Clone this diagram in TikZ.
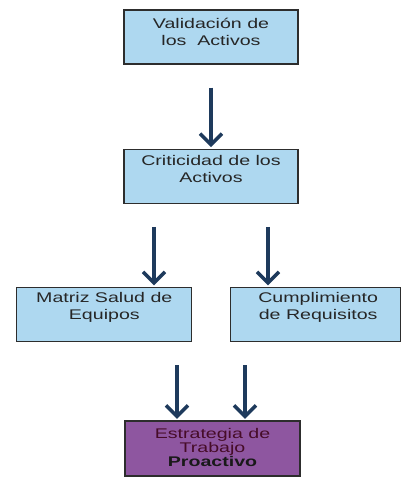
\documentclass[tikz,border=0pt]{standalone}
\usepackage{fontspec}
\setmainfont{Liberation Sans}
\newfontfamily\widefont[FakeStretch=1.4]{Liberation Sans}
\usetikzlibrary{arrows.meta, positioning}
\definecolor{boxblue}{RGB}{174,216,240}
\definecolor{boxline}{RGB}{45,45,45}
\definecolor{arrnavy}{RGB}{30,58,92}
\definecolor{purplefill}{RGB}{142,86,160}
\definecolor{purpletext}{RGB}{70,12,40}

\begin{document}
\begin{tikzpicture}[
  x=1pt, y=1pt,
  box/.style={draw=boxline, line width=1.2pt, fill=boxblue,
              minimum width=174pt, minimum height=54pt, inner sep=0pt},
  pbox/.style={box, fill=purplefill, minimum width=175pt, minimum height=55pt},
  lbl/.style={align=center, font=\widefont\fontsize{14}{16.5}\selectfont, text=black!85},
  plbl/.style={align=center, font=\widefont\fontsize{14}{14}\selectfont, text=purpletext},
  arr/.style={arrnavy, line width=3.5pt, -{Straight Barb[length=11pt,width=22pt]},
              shorten <=23pt, shorten >=1.5pt}]
\useasboundingbox (0,0) rectangle (400,-477);
\node[box, label={[lbl, yshift=5pt]center:Validación de\\los~ Activos}] (valid) at (211,-37) {};
\node[box, below=84pt of valid, label={[lbl, yshift=7pt]center:Criticidad de los\\Activos}] (crit) {};
\node[box, minimum width=175pt, below left=83pt and -69pt of crit,
      label={[lbl, yshift=7pt]center:Matriz Salud de\\Equipos}] (matriz) {};
\node[box, minimum width=170pt, below right=83pt and -69pt of crit,
      label={[lbl, yshift=7pt, xshift=3pt]center:Cumplimiento\\de Requisitos}] (cumpl) {};
\node[pbox, label={[plbl, yshift=1.5pt]center:Estrategia de\\Trabajo\\{\bfseries\color{black!90}Proactivo}}] (estrat) at (212.5,-448.5) {};
\draw[arr] (valid) -- (crit);
\draw[arr] ([xshift=-57pt]crit.south) -- ([xshift=-57pt]crit.south |- matriz.north);
\draw[arr] ([xshift=57pt]crit.south) -- ([xshift=57pt]crit.south |- cumpl.north);
\draw[arr] ([xshift=-35.5pt]estrat.north |- matriz.south) -- ([xshift=-35.5pt]estrat.north);
\draw[arr] ([xshift=32.5pt]estrat.north |- cumpl.south) -- ([xshift=32.5pt]estrat.north);
\end{tikzpicture}
\end{document}
